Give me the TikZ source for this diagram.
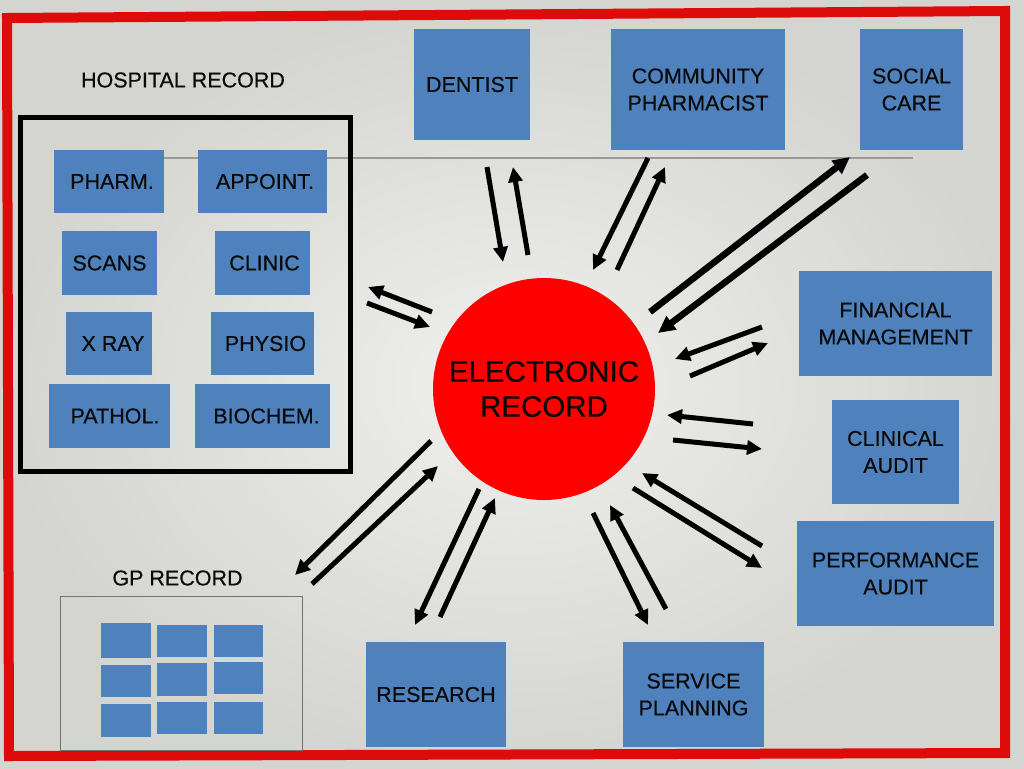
\documentclass[tikz,border=0pt]{standalone}
\usepackage{fontspec}
\setmainfont{Liberation Sans}
\newfontfamily\lblface{Liberation Sans}[FakeBold=0.45]
\usetikzlibrary{arrows.meta}
\definecolor{boxblue}{HTML}{4F81BD}
\definecolor{framered}{HTML}{DE0B0B}
\definecolor{bgin}{HTML}{F0F0EE}
\definecolor{bgout}{HTML}{D4D4D0}
\definecolor{txt}{HTML}{0A0A0A}
\newcommand{\lblfont}{\lblface\fontsize{21.5}{27}\selectfont}
\newcommand{\bigfont}{\lblface\fontsize{29.5}{35}\selectfont}
\tikzset{
  bx/.style={fill=boxblue, draw=none, inner sep=0pt, align=center, font=\lblfont, text=txt},
  sq/.style={fill=boxblue, draw=none, inner sep=0pt},
  ttl/.style={font=\lblfont, text=txt, inner sep=0pt},
  arr/.style={line width=5pt, -{Triangle[length=15pt,width=14pt]}},
  arrw/.style={line width=6.5pt, -{Triangle[length=17pt,width=16pt]}}
}
\begin{document}
\begin{tikzpicture}[x=1pt,y=-1pt]
\useasboundingbox (0,0) rectangle (1024,768);
\shade[inner color=bgin, outer color=bgout] (0,0) rectangle (1024,768);

% grey horizontal rule
\coordinate (rl) at (120,158);
\coordinate (rr) at (913,158);
\draw[line width=2pt, color=black!40] (rl) -- (rr);

% outer red frame
\draw[framered, line width=10pt, line join=miter] (7,18) -- (1005,11) -- (1005,753) -- (9,756) -- cycle;

% hospital record
\node[ttl] (hosptitle) at (183,80) {HOSPITAL RECORD};
\draw[line width=5pt, black] (20,117) rectangle (350,471);
\node[bx, minimum width=110pt, minimum height=63pt] (pharm) at (109,181.5) {\hspace*{6pt}PHARM.};
\node[bx, minimum width=129pt, minimum height=63pt] (appoint) at (262.5,181.5) {\hspace*{5pt}APPOINT.};
\node[bx, minimum width=95pt, minimum height=64pt] (scans) at (109.5,263) {SCANS};
\node[bx, minimum width=95pt, minimum height=64pt] (clinic) at (262.5,263) {\hspace*{4pt}CLINIC};
\node[bx, minimum width=86pt, minimum height=63pt] (xray) at (109,343.5) {\hspace*{8pt}X RAY};
\node[bx, minimum width=103pt, minimum height=63pt] (physio) at (262.5,343.5) {\hspace*{6pt}PHYSIO};
\node[bx, minimum width=121pt, minimum height=64pt] (pathol) at (109.5,416) {\hspace*{11pt}PATHOL.};
\node[bx, minimum width=135pt, minimum height=64pt] (biochem) at (262.5,416) {\hspace*{8pt}BIOCHEM.};

% GP record
\node[ttl] (gptitle) at (177.5,578) {GP RECORD};
\draw[line width=1pt, color=black!55] (60,596) rectangle (302,750);
\node[sq, minimum width=50pt, minimum height=35pt] (g11) at (126,640.5) {};
\node[sq, minimum width=50pt, minimum height=32pt] (g12) at (182,641) {};
\node[sq, minimum width=49pt, minimum height=32pt] (g13) at (238.5,641) {};
\node[sq, minimum width=50pt, minimum height=32pt] (g21) at (126,681) {};
\node[sq, minimum width=50pt, minimum height=33pt] (g22) at (182,679.5) {};
\node[sq, minimum width=49pt, minimum height=32pt] (g23) at (238.5,678) {};
\node[sq, minimum width=50pt, minimum height=33pt] (g31) at (126,720.5) {};
\node[sq, minimum width=50pt, minimum height=32pt] (g32) at (182,718) {};
\node[sq, minimum width=49pt, minimum height=32pt] (g33) at (238.5,718) {};

% outer boxes
\node[bx, minimum width=116pt, minimum height=111pt] (dentist) at (472,84.5) {\raisebox{-4.5pt}{DENTIST}};
\node[bx, minimum width=174pt, minimum height=121pt] (commph) at (698,89.5) {COMMUNITY\\PHARMACIST};
\node[bx, minimum width=103pt, minimum height=121pt] (social) at (911.5,89.5) {SOCIAL\\CARE};
\node[bx, minimum width=193pt, minimum height=105pt] (finance) at (895.5,323.5) {FINANCIAL\\MANAGEMENT};
\node[bx, minimum width=127pt, minimum height=104pt] (claudit) at (895.5,452) {CLINICAL\\AUDIT};
\node[bx, minimum width=197pt, minimum height=105pt] (perf) at (895.5,573.5) {PERFORMANCE\\AUDIT};
\node[bx, minimum width=141pt, minimum height=105pt] (service) at (693.5,694.5) {SERVICE\\PLANNING};
\node[bx, minimum width=140pt, minimum height=105pt] (research) at (436,694.5) {RESEARCH};

% electronic record
\node[circle, fill=red, draw=none, minimum size=222pt, inner sep=0pt, align=center, font=\bigfont, text=txt] (er) at (544,389) {ELECTRONIC\\RECORD};

% arrow end points
\coordinate (a1s) at (487,167);  \coordinate (a1t) at (503,262);
\coordinate (a2s) at (528,255);  \coordinate (a2t) at (513,167);
\coordinate (a3s) at (648,158);  \coordinate (a3t) at (593,270);
\coordinate (a4s) at (617,270);  \coordinate (a4t) at (665,167);
\coordinate (a5s) at (650,312);  \coordinate (a5t) at (850,157);
\coordinate (a6s) at (867,175);  \coordinate (a6t) at (658,333);
\coordinate (a7s) at (762,327);  \coordinate (a7t) at (675,359);
\coordinate (a8s) at (690,376);  \coordinate (a8t) at (768,343);
\coordinate (a9s) at (753,424);  \coordinate (a9t) at (667,415);
\coordinate (a10s) at (673,440); \coordinate (a10t) at (762,449);
\coordinate (a11s) at (762,546); \coordinate (a11t) at (642,473);
\coordinate (a12s) at (633,488); \coordinate (a12t) at (762,568);
\coordinate (a13s) at (593,513); \coordinate (a13t) at (648,625);
\coordinate (a14s) at (666,609); \coordinate (a14t) at (610,505);
\coordinate (a15s) at (479,489); \coordinate (a15t) at (415,625);
\coordinate (a16s) at (440,617); \coordinate (a16t) at (495,498);
\coordinate (a17s) at (431,441); \coordinate (a17t) at (295,575);
\coordinate (a18s) at (312,584); \coordinate (a18t) at (438,466);
\coordinate (a19s) at (432,312); \coordinate (a19t) at (368,287);
\coordinate (a20s) at (367,303); \coordinate (a20t) at (430,327);

\foreach \i in {1,2,3,4,7,8,9,10,11,12,13,14,15,16,17,18,19,20}
  \draw[arr] (a\i s) -- (a\i t);
\draw[arrw] (a5s) -- (a5t);
\draw[arrw] (a6s) -- (a6t);
\end{tikzpicture}
\end{document}
